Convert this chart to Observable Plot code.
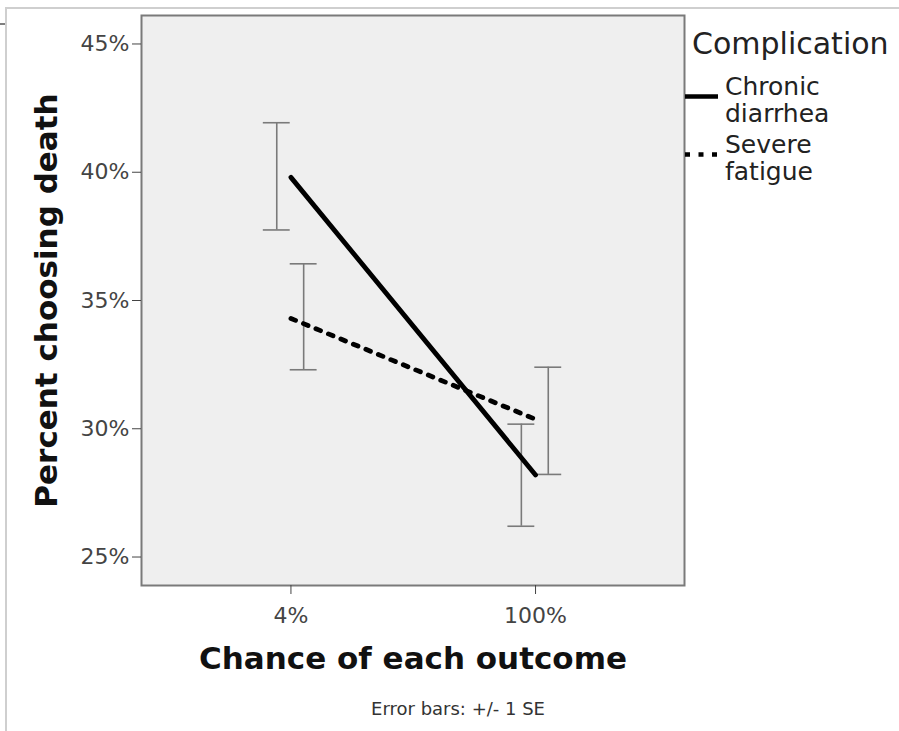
<!DOCTYPE html>
<html>
<head>
<meta charset="utf-8">
<script src="https://cdn.jsdelivr.net/npm/d3@7"></script>
<script src="https://cdn.jsdelivr.net/npm/@observablehq/plot@0.6"></script>
<style>
  html, body { margin: 0; padding: 0; background: #fff; }
  #wrap { position: relative; width: 899px; height: 731px; overflow: hidden; }
  #outer { position: absolute; left: 5px; top: 7px; width: 900px; height: 730px;
           border-left: 2px solid #cfcfcf; border-top: 2px solid #cfcfcf; box-sizing: border-box; }
  #chart { position: absolute; left: 0; top: 0; }
  svg text { font-family: "DejaVu Sans", sans-serif; }
</style>
</head>
<body>
<div id="wrap"><div id="outer"></div><div id="chart"></div></div>
<script>
// ---- data ----
const categories = ["4%", "100%"];
const series = ["Chronic diarrhea", "Severe fatigue"];
const legendLines = [["Chronic", "diarrhea"], ["Severe", "fatigue"]];
const diarrheaMean = [39.8, 28.2];
const diarrheaLo = [37.75, 26.2];
const diarrheaHi = [41.93, 30.18];
const fatigueMean = [34.3, 30.37];
const fatigueLo = [32.3, 28.22];
const fatigueHi = [36.43, 32.4];
const yTicks = [25, 30, 35, 40, 45];
const xTitle = "Chance of each outcome";
const yTitle = "Percent choosing death";
const legendTitle = "Complication";
const caption = "Error bars: +/- 1 SE";

// ---- build table ----
const seriesData = [
  {mean: diarrheaMean, lo: diarrheaLo, hi: diarrheaHi, dodge: -0.058},
  {mean: fatigueMean, lo: fatigueLo, hi: fatigueHi, dodge: 0.052}
];
const rows = [];
series.forEach((s, k) => {
  categories.forEach((c, i) => {
    rows.push({series: s, i, cat: c, mean: seriesData[k].mean[i], lo: seriesData[k].lo[i], hi: seriesData[k].hi[i], xb: i + seriesData[k].dodge});
  });
});
const cap = 0.055;
const errColor = "#7a7a7a";
const dots = "5,8.5";

const plot = Plot.plot({
  width: 899,
  height: 731,
  marginLeft: 141,
  marginRight: 215,
  marginTop: 15,
  marginBottom: 146,
  style: {fontFamily: "DejaVu Sans, sans-serif", background: "transparent", overflow: "visible"},
  x: {type: "linear", domain: [-0.611, 1.609]},
  y: {type: "linear", domain: [23.89, 46.11]},
  marks: [
    Plot.frame({fill: "#efefef"}),
    Plot.ruleX(rows, {x: "xb", y1: "lo", y2: "hi", stroke: errColor, strokeWidth: 1.6}),
    Plot.ruleY(rows, {x1: d => d.xb - cap, x2: d => d.xb + cap, y: "lo", stroke: errColor, strokeWidth: 1.6}),
    Plot.ruleY(rows, {x1: d => d.xb - cap, x2: d => d.xb + cap, y: "hi", stroke: errColor, strokeWidth: 1.6}),
    Plot.line(rows.filter(d => d.series === series[0]), {x: "i", y: "mean", stroke: "#000", strokeWidth: 4.8}),
    Plot.line(rows.filter(d => d.series === series[1]), {x: "i", y: "mean", stroke: "#000", strokeWidth: 4.8, strokeDasharray: dots}),
    Plot.frame({stroke: "#7a7a7a", strokeWidth: 2}),
    Plot.axisY(yTicks, {tickSize: 9, tickPadding: 3, tickFormat: d => d + "%", fontSize: 22, color: "#444", label: null}),
    Plot.axisX([0, 1], {tickSize: 9, tickPadding: 13, tickFormat: i => categories[i], fontSize: 22, color: "#444", label: null}),
    Plot.text([xTitle], {frameAnchor: "bottom", dy: 83, fontSize: 31, fontWeight: "bold", fill: "#111"}),
    Plot.text([yTitle], {frameAnchor: "left", dx: -94, rotate: -90, textAnchor: "middle", fontSize: 31, fontWeight: "bold", fill: "#111"}),
    Plot.text([caption], {frameAnchor: "bottom", dx: 45, dy: 129, fontSize: 18, fill: "#333"})
  ]
});
document.getElementById("chart").appendChild(plot);

// ---- legend ----
const svg = d3.select(plot);
const lg = svg.append("g").attr("font-family", "DejaVu Sans, sans-serif").attr("fill", "#222").attr("text-anchor", "start");
lg.append("text").attr("x", 692).attr("y", 54).attr("font-size", 30).text(legendTitle);
const itemTop = [95, 153];
series.forEach((s, k) => {
  const base = itemTop[k];
  lg.append("line")
    .attr("x1", 685).attr("x2", 718).attr("y1", base + 1.5).attr("y2", base + 1.5)
    .attr("stroke", "#000").attr("stroke-width", 4.5)
    .attr("stroke-dasharray", k === 1 ? dots : null);
  legendLines[k].forEach((t, j) => {
    lg.append("text").attr("x", 725).attr("y", base + j * 27).attr("font-size", 25).text(t);
  });
});
// small artifact line at top-left of the outer frame
svg.append("line").attr("x1", 0).attr("x2", 5).attr("y1", 24).attr("y2", 24).attr("stroke", "#555").attr("stroke-width", 1.5);
</script>
</body>
</html>
